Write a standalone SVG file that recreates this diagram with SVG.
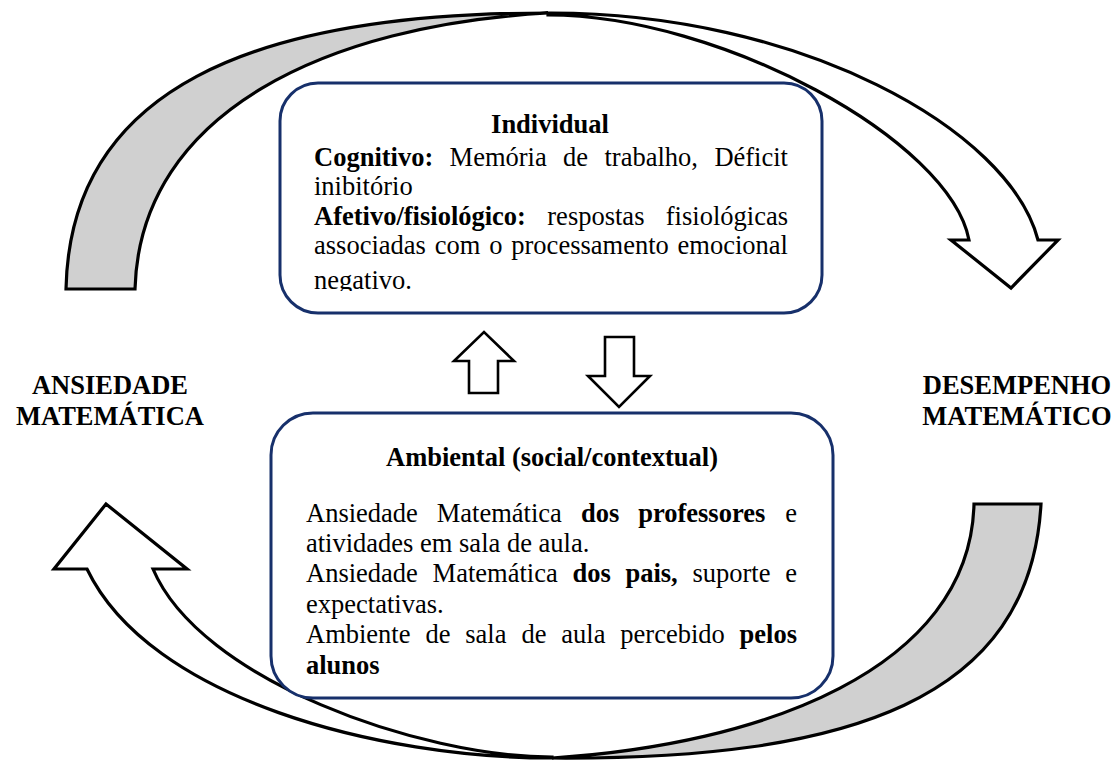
<svg xmlns="http://www.w3.org/2000/svg" width="1119" height="760" viewBox="0 0 1119 760">
  <style>
    .txt { font-family: "Liberation Serif", "Times New Roman", serif; font-size: 26.5px; fill: #000; }
    .b { font-weight: bold; }
    .box { fill: #fff; stroke: #17306b; stroke-width: 3; }
    .band { stroke: #000; stroke-width: 3.2; stroke-linejoin: miter; }
    .front { fill: #fff; }
    .back { fill: #d0d0d0; }
    .small { fill: #fff; stroke: #000; stroke-width: 2.6; stroke-linejoin: miter; }
  </style>
  <defs>
    <!-- inner text area of the upper box -->
    <clipPath id="individual-text-area">
      <rect x="282" y="85" width="538" height="206"/>
    </clipPath>
  </defs>
  <rect width="1119" height="760" fill="#fff"/>

  <!-- Connectors: curved cycle arrows and the two block arrows between the boxes -->
  <g id="connectors">
    <!-- upper curved arrow: shaded back face on the left, front face ending in the head on the right -->
    <path class="band back" d="M66,289 C70,90 250,13 548,13 C330,25 140,110 135,289 Z"/>
    <path class="band front" d="M548,13 C800,12 1010,130 1038,240 L1058,240 L1011,288 L951,240 L969,240 C950,140 720,15 548,15 Z"/>
    <!-- lower curved arrow: shaded back face on the right, front face ending in the head on the left -->
    <path class="band back" d="M974,504 L1041,504 C1030,700 850,760 552,758 C760,745 970,670 974,504 Z"/>
    <path class="band front" d="M552,758 C380,758 150,700 87,569 L54,569 L106,504 L187,569 L153,569 C200,680 420,757 552,757 Z"/>
    <!-- block arrows -->
    <path class="small" d="M469,393 L469,361 L454,361 L484,332 L514,361 L498,361 L498,393 Z"/>
    <path class="small" d="M605,337 L634,337 L634,376 L650,376 L619,407 L588,376 L605,376 Z"/>
  </g>

  <g id="node-individual">
    <rect class="box" x="280" y="83" width="542" height="230" rx="38" ry="38"/>
    <g clip-path="url(#individual-text-area)">
      <text class="txt b" x="550" y="133" text-anchor="middle">Individual</text>
      <text class="txt" y="166"><tspan class="b" x="314">Cognitivo:</tspan><tspan x="449.6">Memória</tspan><tspan x="563.1">de</tspan><tspan x="604.5">trabalho,</tspan><tspan x="714.4">Déficit</tspan></text>
      <text class="txt" x="314" y="195">inibitório</text>
      <text class="txt" y="225"><tspan class="b" x="314">Afetivo/fisiológico:</tspan><tspan x="547.3">respostas</tspan><tspan x="665.8">fisiológicas</tspan></text>
      <text class="txt" y="254"><tspan x="314">associadas</tspan><tspan x="434.7">com</tspan><tspan x="489.2">o</tspan><tspan x="511.3">processamento</tspan><tspan x="677.6">emocional</tspan></text>
      <text class="txt" x="314" y="289">negativo.</text>
    </g>
  </g>

  <g id="node-ambiental">
    <rect class="box" x="271" y="413" width="562" height="285" rx="42" ry="42"/>
    <text class="txt b" x="552" y="466" text-anchor="middle">Ambiental (social/contextual)</text>
    <text class="txt" y="522"><tspan x="306">Ansiedade</tspan><tspan x="436.8">Matemática</tspan><tspan class="b" x="580.9">dos</tspan><tspan class="b" x="638.2">professores</tspan><tspan x="785.2">e</tspan></text>
    <text class="txt" x="306" y="552">atividades em sala de aula.</text>
    <text class="txt" y="582"><tspan x="306">Ansiedade</tspan><tspan x="432.6">Matemática</tspan><tspan class="b" x="572.4">dos</tspan><tspan class="b" x="625.4">pais,</tspan><tspan x="692.4">suporte</tspan><tspan x="785.2">e</tspan></text>
    <text class="txt" x="306" y="613">expectativas.</text>
    <text class="txt" y="643"><tspan x="306">Ambiente</tspan><tspan x="425.4">de</tspan><tspan x="465.3">sala</tspan><tspan x="521.4">de</tspan><tspan x="561.3">aula</tspan><tspan x="620.3">percebido</tspan><tspan class="b" x="739.6">pelos</tspan></text>
    <text class="txt b" x="306" y="674">alunos</text>
  </g>

  <g id="label-ansiedade">
    <text class="txt b" x="110" y="394" text-anchor="middle">ANSIEDADE</text>
    <text class="txt b" x="110" y="425" text-anchor="middle">MATEMÁTICA</text>
  </g>

  <g id="label-desempenho">
    <text class="txt b" x="1017" y="394" text-anchor="middle">DESEMPENHO</text>
    <text class="txt b" x="1017" y="425" text-anchor="middle">MATEMÁTICO</text>
  </g>
</svg>
